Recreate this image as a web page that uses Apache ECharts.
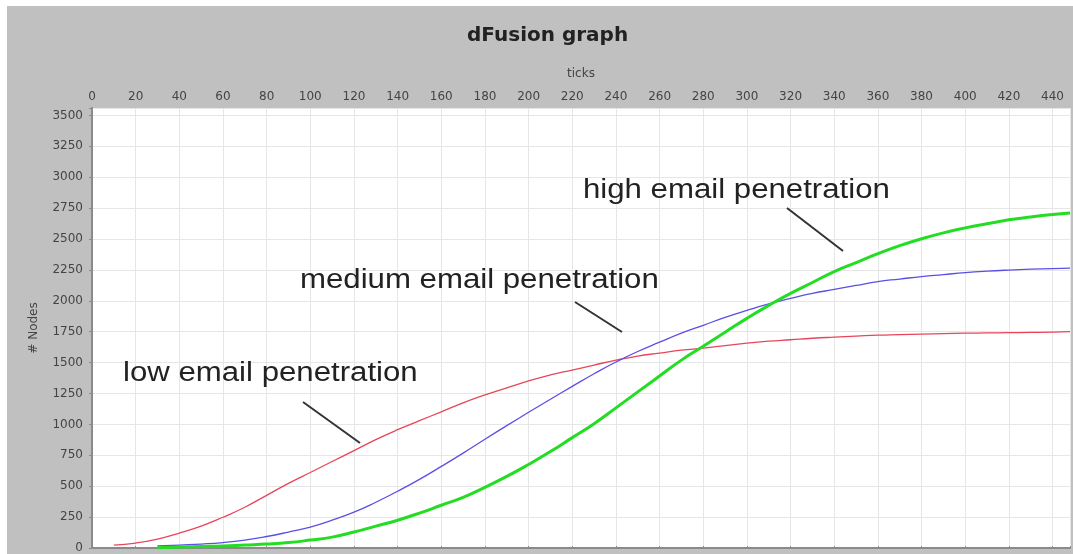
<!DOCTYPE html>
<html>
<head>
<meta charset="utf-8">
<title>dFusion graph</title>
<script src="https://cdn.jsdelivr.net/npm/echarts@6/dist/echarts.min.js"></script>
<style>
html,body{margin:0;padding:0;background:#fff;}
#main{position:absolute;left:7px;top:6px;width:1066px;height:548px;}
</style>
</head>
<body>
<div id="main"></div>
<script>
// ticks (x) and # Nodes for each penetration level
var ticks  = [0,10,20,30,40,50,60,70,80,90,100,110,120,130,140,150,160,170,180,190,200,210,220,230,240,250,260,270,280,290,300,310,320,330,340,350,360,370,380,390,400,410,420,430,440,448];
var lowPen = [null,24,40,72,121,177,249,330,426,523,611,700,788,877,957,1030,1102,1175,1239,1295,1352,1400,1440,1480,1520,1553,1577,1601,1617,1637,1657,1673,1685,1697,1706,1714,1722,1726,1730,1734,1738,1740,1742,1744,1746,1750];
var medPen = [null,null,null,16,24,32,44,64,93,129,169,225,290,370,459,555,660,768,880,990,1098,1204,1308,1410,1505,1590,1665,1738,1802,1866,1923,1975,2019,2060,2092,2124,2156,2176,2196,2212,2228,2240,2249,2256,2261,2265];
var highPen = [null,null,null,3,8,12,16,24,32,44,64,88,129,177,225,282,346,410,491,579,676,780,893,1006,1134,1263,1392,1520,1633,1746,1858,1963,2060,2148,2237,2309,2381,2446,2502,2550,2590,2623,2655,2679,2699,2711];

function pairs(vals){
    var out=[];
    for(var i=0;i<ticks.length;i++){
        if(vals[i]!==null) out.push([ticks[i],vals[i]]);
    }
    return out;
}

var chart=echarts.init(document.getElementById("main"));
var option={
    backgroundColor:"#c0c0c0",
    animation:false,
    title:{
        text:"dFusion graph",
        left:455,
        top:15,
        textStyle:{
            color:"#222",
            fontSize:20,
            fontWeight:"bold",
            fontFamily:"DejaVu Sans"
        }
    },
    grid:{
        left:85,
        top:102,
        right:0,
        bottom:4,
        show:true,
        backgroundColor:"#fff",
        borderWidth:0
    },
    xAxis:{
        type:"value",
        position:"top",
        min:0,
        max:448,
        interval:20,
        name:"ticks",
        nameLocation:"middle",
        nameGap:28,
        nameMoveOverlap:false,
        nameTextStyle:{color:"#444",fontSize:12,fontFamily:"DejaVu Sans"},
        axisLine:{show:true,lineStyle:{color:"#8a8a8a",width:2}},
        axisTick:{show:true,length:2,lineStyle:{color:"#8a8a8a"}},
        axisLabel:{
            color:"#444",
            fontSize:12,
            fontFamily:"DejaVu Sans",
            margin:5,
            formatter:function(v){return v%20===0?v:"";}
        },
        splitLine:{show:true,lineStyle:{color:"#e6e6e6",width:1}}
    },
    yAxis:{
        type:"value",
        min:0,
        max:3560,
        interval:250,
        name:"# Nodes",
        nameLocation:"middle",
        nameGap:52,
        nameMoveOverlap:false,
        nameTextStyle:{color:"#444",fontSize:12,fontFamily:"DejaVu Sans"},
        axisLine:{show:true,lineStyle:{color:"#8a8a8a",width:2}},
        axisTick:{show:true,length:3,lineStyle:{color:"#8a8a8a"}},
        axisLabel:{
            color:"#444",
            fontSize:12,
            fontFamily:"DejaVu Sans",
            margin:9,
            formatter:function(v){return v%250===0?v:"";}
        },
        splitLine:{show:true,lineStyle:{color:"#e6e6e6",width:1}}
    },
    series:[{
        name:"low email penetration",
        type:"line",
        smooth:true,
        symbol:"none",
        lineStyle:{color:"#e8455a",width:1.3},
        data:pairs(lowPen)
    },{
        name:"medium email penetration",
        type:"line",
        smooth:true,
        symbol:"none",
        lineStyle:{color:"#5b4fe6",width:1.3},
        data:pairs(medPen)
    },{
        name:"high email penetration",
        type:"line",
        smooth:true,
        symbol:"none",
        lineStyle:{color:"#22dd22",width:3},
        data:pairs(highPen)
    }],
    graphic:[
        {type:"text",x:116,y:368,scaleX:1.155,z:10,
         style:{text:"low email penetration",fill:"#222",font:'27px "Liberation Sans"',textAlign:"left",textVerticalAlign:"middle"}},
        {type:"text",x:293,y:275,scaleX:1.155,z:10,
         style:{text:"medium email penetration",fill:"#222",font:'27px "Liberation Sans"',textAlign:"left",textVerticalAlign:"middle"}},
        {type:"text",x:576,y:185,scaleX:1.155,z:10,
         style:{text:"high email penetration",fill:"#222",font:'27px "Liberation Sans"',textAlign:"left",textVerticalAlign:"middle"}},
        {type:"line",z:10,shape:{x1:296,y1:396,x2:353,y2:437},style:{stroke:"#333",lineWidth:2}},
        {type:"line",z:10,shape:{x1:568,y1:296,x2:615,y2:326},style:{stroke:"#333",lineWidth:2}},
        {type:"line",z:10,shape:{x1:780,y1:202,x2:836,y2:245},style:{stroke:"#333",lineWidth:2}}
    ]
};
chart.setOption(option);
</script>
</body>
</html>
